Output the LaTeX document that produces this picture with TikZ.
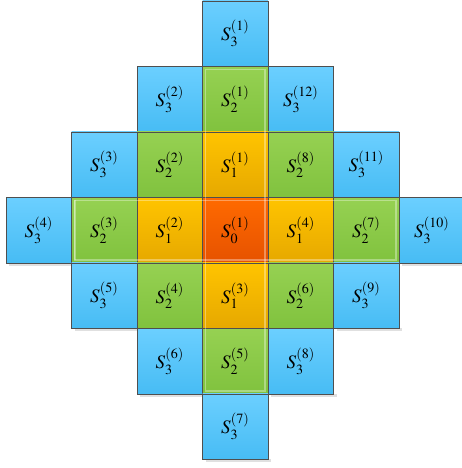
\documentclass[tikz,border=0pt]{standalone}
\usepackage{mathptmx}
\usepackage[no-math]{fontspec}
\setmainfont{Liberation Serif}
\usetikzlibrary{calc}
\definecolor{bluetop}{HTML}{6BCFFF}
\definecolor{bluebot}{HTML}{47BCF4}
\definecolor{greentop}{HTML}{96D152}
\definecolor{greenbot}{HTML}{80C23E}
\definecolor{orangetop}{HTML}{FFC400}
\definecolor{orangebot}{HTML}{E6A800}
\definecolor{redtop}{HTML}{FF6A00}
\definecolor{redbot}{HTML}{E65200}
\definecolor{edgegray}{HTML}{4F4F4F}
\tikzset{
  cellbox/.style={draw=edgegray, line width=0.9pt, minimum width=65.5pt, minimum height=65.5pt,
    inner sep=0pt, outer sep=0pt, font=\fontsize{19}{22}\selectfont},
  lvlzero/.style={cellbox, top color=redtop, bottom color=redbot},
  lvlone/.style={cellbox, top color=orangetop, bottom color=orangebot},
  lvltwo/.style={cellbox, top color=greentop, bottom color=greenbot},
  lvlthree/.style={cellbox, top color=bluetop, bottom color=bluebot},
  shadowbox/.style={fill=black, opacity=0.12, draw=none},
}
\begin{document}
\begin{tikzpicture}[x=1pt,y=1pt]
\useasboundingbox (0,0) rectangle (462,468);
% helper: center of cell (c,r): x = 6+65.5c+32.75, y = 468-(1+65.5r+32.75)
\foreach \c/\r in {3/6,2/5,4/5,1/4,5/4,0/3,6/3}{
  \fill[shadowbox] ({6+65.5*\c+3},{468-(1+65.5*(\r+1))-3}) rectangle ({6+65.5*(\c+1)+3},{468-(1+65.5*(\r+1))});
}
\foreach \c/\r/\lv/\s/\n [count=\i] in {
  3/0/lvlthree/3/1,
  2/1/lvlthree/3/2, 3/1/lvltwo/2/1, 4/1/lvlthree/3/12,
  1/2/lvlthree/3/3, 2/2/lvltwo/2/2, 3/2/lvlone/1/1, 4/2/lvltwo/2/8, 5/2/lvlthree/3/11,
  0/3/lvlthree/3/4, 1/3/lvltwo/2/3, 2/3/lvlone/1/2, 3/3/lvlzero/0/1, 4/3/lvlone/1/4, 5/3/lvltwo/2/7, 6/3/lvlthree/3/10,
  1/4/lvlthree/3/5, 2/4/lvltwo/2/4, 3/4/lvlone/1/3, 4/4/lvltwo/2/6, 5/4/lvlthree/3/9,
  2/5/lvlthree/3/6, 3/5/lvltwo/2/5, 4/5/lvlthree/3/8,
  3/6/lvlthree/3/7}{
  \node[\lv] (cell\i) at ({6+65.5*\c+32.75},{468-(1+65.5*\r+32.75)}) {$S_{\s}^{(\n)}$};
}
% light glossy inner lines
\draw[white, opacity=0.35, line width=1.2pt]
  ($(cell3.north west)+(3,-3)$) rectangle ($(cell23.south east)+(-3,3)$);
\draw[white, opacity=0.35, line width=1.2pt]
  ($(cell10.north west)+(69,-3)$) -- ($(cell10.south west)+(69,3)$);
\draw[white, opacity=0.35, line width=1.2pt]
  ($(cell11.north west)+(3,-3)$) rectangle ($(cell15.south east)+(-3,3)$);
\end{tikzpicture}
\end{document}
